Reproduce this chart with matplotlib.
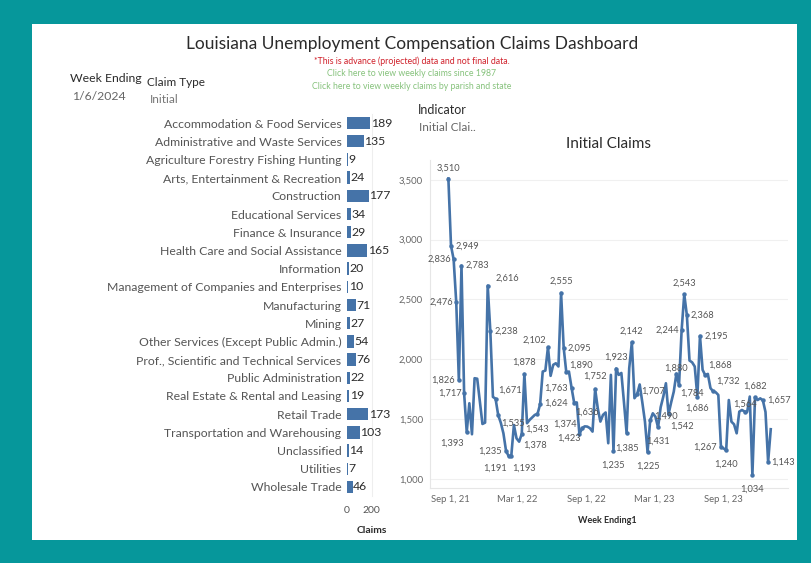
import matplotlib
matplotlib.use("Agg")
import matplotlib.pyplot as plt
from matplotlib.patches import Rectangle
import pandas as pd

plt.rcParams['font.family'] = ['Lato', 'DejaVu Sans']

# claims by industry for the selected week
industries = [
    "Accommodation & Food Services",
    "Administrative and Waste Services",
    "Agriculture Forestry Fishing Hunting",
    "Arts, Entertainment & Recreation",
    "Construction",
    "Educational Services",
    "Finance & Insurance",
    "Health Care and Social Assistance",
    "Information",
    "Management of Companies and Enterprises",
    "Manufacturing",
    "Mining",
    "Other Services (Except Public Admin.)",
    "Prof., Scientific and Technical Services",
    "Public Administration",
    "Real Estate & Rental and Leasing",
    "Retail Trade",
    "Transportation and Warehousing",
    "Unclassified",
    "Utilities",
    "Wholesale Trade",
]
claims = [189, 135, 9, 24, 177, 34, 29, 165, 20, 10, 71, 27, 54, 76, 22, 19, 173, 103, 14, 7, 46]

# weekly initial claims, week ending Saturdays
initial_claims = [
    3510, 2949, 2836, 2476, 1826, 2783, 1717, 1393, 1633, 1374,
    1842, 1838, 1650, 1460, 1471, 2616, 2238, 1686, 1671, 1535,
    1470, 1382, 1235, 1191, 1193, 1451, 1340, 1312, 1378, 1878,
    1466, 1494, 1515, 1536, 1543, 1624, 1898, 1906, 2102, 1862,
    1954, 1967, 1940, 2555, 2095, 1890, 1898, 1763, 1636, 1640,
    1374, 1423, 1440, 1438, 1425, 1396, 1752, 1591, 1480, 1536,
    1556, 1299, 1870, 1235, 1923, 1870, 1886, 1640, 1385, 1926,
    2142, 1675, 1707, 1790, 1640, 1480, 1225, 1490, 1549, 1521,
    1431, 1600, 1688, 1800, 1542, 1640, 1730, 1880, 1784, 2244,
    2543, 2368, 1990, 1975, 1940, 1686, 2195, 1912, 1868, 1878,
    1760, 1732, 1725, 1702, 1267, 1256, 1240, 1660, 1479, 1457,
    1382, 1563, 1577, 1564, 1560, 1689, 1034, 1682, 1660, 1674,
    1657, 1560, 1143, 1416,
]
week_ending = pd.date_range("2021-08-28", periods=len(initial_claims), freq="7D")

# which points carry a value label, and where the label sits (offset in points)
label_pos = {
    0: (0, 4), 1: (3, 0), 2: (-2, 0), 3: (-2, 0), 4: (-3, 0), 5: (3, 0),
    6: (-2, 0), 7: (-2, -8), 15: (6, 5), 16: (3, 0), 18: (2, 6), 19: (2, -6),
    22: (-3, 0), 23: (-1, -9), 24: (1, -9), 28: (1, -8), 29: (0, 5),
    34: (0, -8), 35: (3, 1), 38: (-1, 5), 43: (0, 5), 44: (3, 0), 45: (2, 5),
    47: (-3, 0), 48: (1, -7), 50: (-2, 7), 51: (-1, -7), 56: (0, 6),
    63: (0, -7), 64: (0, 5), 68: (0, -8), 70: (0, 5), 72: (3, 2), 76: (0, -7),
    77: (3, 3), 80: (0, -7), 84: (1, -9), 87: (0, 1), 88: (1, -6),
    89: (-2, 0), 90: (0, 5), 91: (3, 0), 95: (0, -5), 96: (3, 0),
    98: (2, 7), 101: (2, 7), 104: (-3, 0), 106: (0, -7), 113: (0, 2),
    116: (0, -7), 117: (0, 5), 120: (3, 0), 122: (2, 0),
}

blue = "#4573a8"
text_dark = "#2b2b2b"
text_grey = "#666666"

fig = plt.figure(figsize=(8.12, 5.63), dpi=100)
fig.patch.set_facecolor("#06979b")
fig.patches.append(Rectangle((0.040, 0.041), 0.941, 0.916, transform=fig.transFigure,
                             facecolor="white", edgecolor="none", zorder=-10))

fig.text(0.507, 0.922, "Louisiana Unemployment Compensation Claims Dashboard",
         ha="center", va="center", fontsize=12.5, color=text_dark)
fig.text(0.507, 0.892, "*This is advance (projected) data and not final data.",
         ha="center", va="center", fontsize=6.3, color="#d0202a")
fig.text(0.507, 0.870, "Click here to view weekly claims since 1987",
         ha="center", va="center", fontsize=6.3, color="#86c27c")
fig.text(0.507, 0.847, "Click here to view weekly claims by parish and state",
         ha="center", va="center", fontsize=6.3, color="#86c27c")

fig.text(0.086, 0.860, "Week Ending", ha="left", va="center", fontsize=8.8, color=text_dark)
fig.text(0.089, 0.828, "1/6/2024", ha="left", va="center", fontsize=8.8, color=text_grey)
fig.text(0.181, 0.854, "Claim Type", ha="left", va="center", fontsize=8.5, color=text_dark)
fig.text(0.184, 0.824, "Initial", ha="left", va="center", fontsize=8.5, color="#777777")
fig.text(0.515, 0.805, "Indicator", ha="left", va="center", fontsize=9, color=text_dark)
fig.text(0.516, 0.774, "Initial Clai..", ha="left", va="center", fontsize=8.5, color=text_grey)

# industry bar chart
ax_bar = fig.add_axes([0.4273, 0.119, 0.0308, 0.6785])
ax_bar.patch.set_alpha(0)
ypos = range(len(industries))
ax_bar.barh(ypos, claims, height=0.68, color=blue)
ax_bar.set_ylim(len(industries) - 0.5, -0.5)
ax_bar.set_xlim(0, 203)
ax_bar.set_yticks(list(ypos))
ax_bar.set_yticklabels(industries, fontsize=8.8, color="#555555")
ax_bar.set_xticks([0, 200])
ax_bar.set_xticklabels(["0", "200"], fontsize=7.5, color="#555555")
ax_bar.tick_params(axis="y", length=0, pad=4)
ax_bar.tick_params(axis="x", length=0, pad=7)
for side in ["top", "left", "bottom"]:
    ax_bar.spines[side].set_visible(False)
ax_bar.spines["right"].set_color("#eeeeee")
for i, v in enumerate(claims):
    ax_bar.text(v + 4, i, str(v), va="center", ha="left", fontsize=8.8,
                color=text_dark, clip_on=False)
fig.text(0.458, 0.057, "Claims", ha="center", va="center", fontsize=7.5,
         fontweight="bold", color=text_dark)

# weekly initial claims line
ax = fig.add_axes([0.5296, 0.1332, 0.4408, 0.5826])
ax.patch.set_alpha(0)
ax.plot(week_ending, initial_claims, color=blue, linewidth=1.9, zorder=3)
idx = sorted(label_pos)
ax.plot(week_ending[idx], [initial_claims[i] for i in idx], "o", color=blue,
        markersize=2.2, zorder=4)
for i in idx:
    dx, dy = label_pos[i]
    ha = "center" if dx == 0 else ("left" if dx > 0 else "right")
    va = "center" if dy == 0 else ("bottom" if dy > 0 else "top")
    if dx != 0 and dy != 0:
        va = "center"
    ax.annotate(f"{initial_claims[i]:,}", (week_ending[i], initial_claims[i]),
                xytext=(dx, dy), textcoords="offset points", ha=ha, va=va,
                fontsize=6.7, color="#555555", zorder=5)

ax.set_ylim(925, 3665)
ax.set_xlim(pd.Timestamp("2021-07-10"), pd.Timestamp("2024-02-21"))
ax.set_yticks([1000, 1500, 2000, 2500, 3000, 3500])
ax.set_yticklabels(["1,000", "1,500", "2,000", "2,500", "3,000", "3,500"],
                   fontsize=6.8, color=text_grey)
ticks = pd.to_datetime(["2021-09-01", "2022-03-01", "2022-09-01", "2023-03-01", "2023-09-01"])
ax.set_xticks(ticks)
ax.set_xticklabels([f"{t.strftime('%b')} 1, {t.strftime('%y')}" for t in ticks],
                   fontsize=6.8, color=text_grey)
ax.tick_params(length=0, pad=5)
ax.grid(axis="y", color="#f0f0f0", linewidth=0.8)
for side in ["top", "right"]:
    ax.spines[side].set_visible(False)
for side in ["left", "bottom"]:
    ax.spines[side].set_color("#e6e6e6")
ax.set_title("Initial Claims", fontsize=11, color=text_dark, pad=9)
fig.text(0.7475, 0.076, "Week Ending1", ha="center", va="center", fontsize=6.5,
         fontweight="bold", color=text_dark)

fig.savefig("out.png", dpi=100)
